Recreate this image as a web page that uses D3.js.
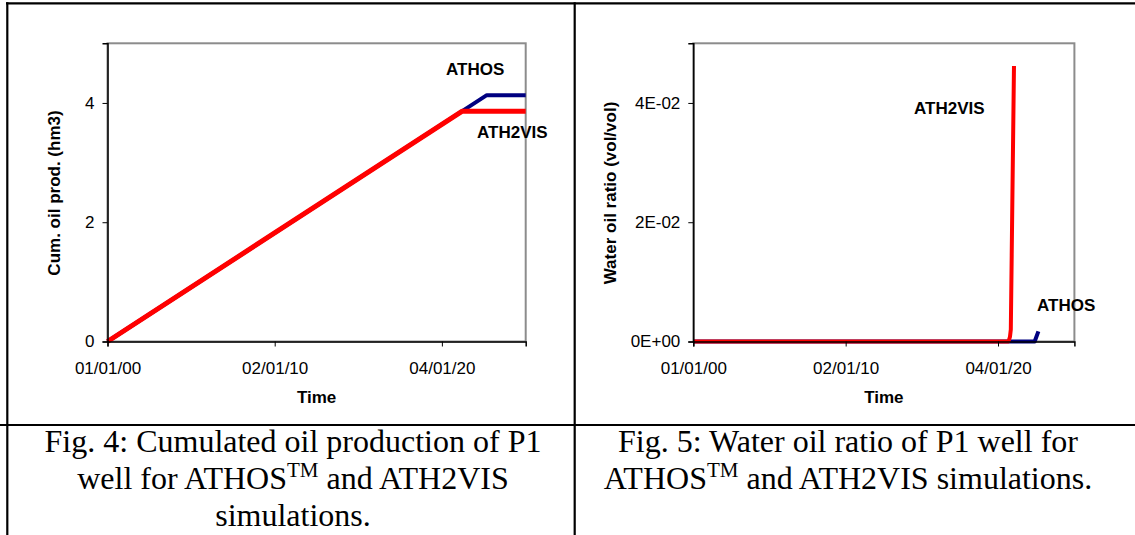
<!DOCTYPE html>
<html>
<head>
<meta charset="utf-8">
<script src="https://cdn.jsdelivr.net/npm/d3@7"></script>
<style>
  body { margin: 0; background: #fff; }
  svg { display: block; }
</style>
</head>
<body>
<div id="vis"></div>
<script>
// Dates on the time axis (dd/mm/yy ticks every 3654 days)
var axisStart = "2000-01-01";
var axisEnd = "2025-01-09";
var timeTicks = ["2000-01-01", "2010-01-02", "2020-01-04"];

// Fig. 4 : cumulated oil production (hm3)
var cumDates_ATHOS = ["2000-01-01", "2022-09-12", "2025-01-09"];
var cumValues_ATHOS = [0, 4.13, 4.13];
var cumDates_ATH2VIS = ["2000-01-01", "2021-03-17", "2025-01-09"];
var cumValues_ATH2VIS = [0, 3.86, 3.86];
var cumTicks = [0, 2, 4];

// Fig. 5 : water oil ratio (vol/vol)
var worDates_ATHOS = ["2000-01-01", "2022-06-01", "2022-08-29"];
var worValues_ATHOS = [0, 0, 0.0017];
var worDates_ATH2VIS = ["2000-01-01", "2020-09-12", "2020-10-17", "2020-11-06", "2021-01-21"];
var worValues_ATH2VIS = [0, 0, 0.0008, 0.002, 0.0462];
var worTicks = [0, 0.02, 0.04];

var parseDate = d3.timeParse("%Y-%m-%d");
var fmtDate = d3.timeFormat("%d/%m/%y");

// zip two arrays into [date, value] pairs
function pairs(dates, values) {
  return dates.map((d, i) => [parseDate(d), values[i]]);
}

var W = 1135, H = 535;
var svg = d3.select("#vis").append("svg").attr("width", W).attr("height", H);

// table borders around the two figures
var borders = svg.append("g").attr("stroke", "#000").attr("stroke-width", 2.2);
borders.append("line").attr("x1", 6).attr("x2", W).attr("y1", 3.3).attr("y2", 3.3);
borders.append("line").attr("x1", 0).attr("x2", W).attr("y1", 425).attr("y2", 425);
borders.append("line").attr("x1", 7.3).attr("x2", 7.3).attr("y1", 2.2).attr("y2", H);
borders.append("line").attr("x1", 574.7).attr("x2", 574.7).attr("y1", 2.2).attr("y2", H);

// draws one Excel-like chart
function drawChart(opt) {
  var g = svg.append("g");
  var x = d3.scaleTime()
    .domain([parseDate(axisStart), parseDate(axisEnd)])
    .range([opt.left, opt.right]);
  var y = d3.scaleLinear().domain(opt.yDomain).range([341.5, 43.3]);

  // plot area frame (grey)
  g.append("rect")
    .attr("x", opt.left).attr("y", 43.3)
    .attr("width", opt.right - opt.left).attr("height", 341.5 - 43.3)
    .attr("fill", "none").attr("stroke", "#8c8c8c").attr("stroke-width", 2);

  // lines (ATHOS first, ATH2VIS drawn on top)
  var line = d3.line().x((d) => x(d[0])).y((d) => y(d[1]));
  opt.series.forEach((s) => {
    g.append("path")
      .datum(s.data)
      .attr("d", line)
      .attr("fill", "none")
      .attr("stroke", s.color)
      .attr("stroke-width", s.width)
      .attr("stroke-linejoin", "round");
  });

  // x axis
  var xAxis = g.append("g")
    .attr("transform", `translate(0, 341.5)`)
    .call(d3.axisBottom(x)
      .tickValues(timeTicks.map(parseDate))
      .tickFormat(fmtDate)
      .tickSizeOuter(0)
      .tickSize(5)
      .tickPadding(15));
  xAxis.select(".domain").attr("stroke", "#000").attr("stroke-width", 1.5);
  xAxis.selectAll("text")
    .attr("font-family", "Liberation Sans, Arial, sans-serif")
    .attr("font-size", 17).attr("fill", "#000");

  // y axis
  var yAxis = g.append("g")
    .attr("transform", `translate(${opt.left}, 0)`)
    .call(d3.axisLeft(y)
      .tickValues(opt.yTicks)
      .tickFormat(opt.yFormat)
      .tickSizeOuter(0)
      .tickSize(5)
      .tickPadding(8));
  yAxis.select(".domain").attr("stroke", "#000").attr("stroke-width", 1.5);
  yAxis.selectAll("text")
    .attr("font-family", "Liberation Sans, Arial, sans-serif")
    .attr("font-size", 17).attr("fill", "#000");

  // axis titles
  g.append("text")
    .attr("x", (opt.left + opt.right) / 2).attr("y", 403.3)
    .attr("text-anchor", "middle")
    .attr("font-family", "Liberation Sans, Arial, sans-serif")
    .attr("font-size", 17).attr("font-weight", "bold")
    .text("Time");
  g.append("text")
    .attr("transform", `translate(${opt.yTitleX}, 193) rotate(-90)`)
    .attr("text-anchor", "middle")
    .attr("font-family", "Liberation Sans, Arial, sans-serif")
    .attr("font-size", 17).attr("font-weight", "bold")
    .text(opt.yTitle);

  // series labels
  opt.labels.forEach((l) => {
    g.append("text")
      .attr("x", l.x).attr("y", l.y)
      .attr("font-family", "Liberation Sans, Arial, sans-serif")
      .attr("font-size", 17).attr("font-weight", "bold")
      .text(l.text);
  });
}

drawChart({
  left: 107.5, right: 525.7,
  yDomain: [0, 5], yTicks: cumTicks, yFormat: d3.format("d"),
  yTitle: "Cum. oil prod. (hm3)", yTitleX: 60,
  series: [
    { data: pairs(cumDates_ATHOS, cumValues_ATHOS), color: "#000080", width: 4 },
    { data: pairs(cumDates_ATH2VIS, cumValues_ATH2VIS), color: "#ff0000", width: 5 },
  ],
  labels: [
    { text: "ATHOS", x: 446, y: 75 },
    { text: "ATH2VIS", x: 477, y: 138 },
  ],
});

drawChart({
  left: 693.3, right: 1074.4,
  yDomain: [0, 0.05], yTicks: worTicks, yFormat: (d) => d.toExponential(0).replace("e", "E").replace(/E([+-])(\d)$/, "E$10$2"),
  yTitle: "Water oil ratio (vol/vol)", yTitleX: 616,
  series: [
    { data: pairs(worDates_ATHOS, worValues_ATHOS), color: "#000080", width: 4 },
    { data: pairs(worDates_ATH2VIS, worValues_ATH2VIS), color: "#ff0000", width: 4 },
  ],
  labels: [
    { text: "ATH2VIS", x: 914, y: 114 },
    { text: "ATHOS", x: 1037, y: 311 },
  ],
});

// captions below the charts
function caption(cx, lines) {
  var t = svg.append("text")
    .attr("font-family", "Liberation Serif, Times New Roman, serif")
    .attr("font-size", 32).attr("fill", "#000");
  lines.forEach((ln, i) => {
    var row = t.append("tspan").attr("x", cx).attr("y", 451.7 + i * 37.2).attr("text-anchor", "middle");
    // no text-anchor on the sub-spans so the whole row centres as one chunk
    var parts = ln.split("TM");
    parts.forEach((p, j) => {
      if (j > 0) {
        row.append("tspan").attr("font-size", 21).attr("dy", -12).text("TM");
        row.append("tspan").attr("dy", 12).text(p);
      } else {
        row.append("tspan").text(p);
      }
    });
  });
}
caption(293, ["Fig. 4: Cumulated oil production of P1", "well for ATHOSTM and ATH2VIS", "simulations."]);
caption(848, ["Fig. 5: Water oil ratio of P1 well for", "ATHOSTM and ATH2VIS simulations."]);
</script>
</body>
</html>
